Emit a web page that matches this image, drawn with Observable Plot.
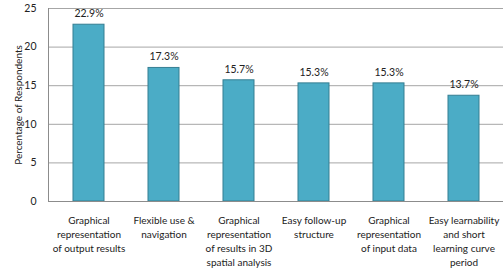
<!DOCTYPE html>
<html>
<head>
<meta charset="utf-8">
<script src="https://cdn.jsdelivr.net/npm/d3@7"></script>
<script src="https://cdn.jsdelivr.net/npm/@observablehq/plot@0.6"></script>
<style>
  html, body { margin: 0; padding: 0; background: #fff; }
  #chart svg { display: block; }
</style>
</head>
<body>
<div id="chart"></div>
<script>
const categories = [
  "Graphical\nrepresentation\nof output results",
  "Flexible use &\nnavigation",
  "Graphical\nrepresentation\nof results in 3D\nspatial analysis",
  "Easy follow-up\nstructure",
  "Graphical\nrepresentation\nof input data",
  "Easy learnability\nand short\nlearning curve\nperiod"
];
const values = [22.9, 17.3, 15.7, 15.3, 15.3, 13.7];
const valueLabels = ["22.9%", "17.3%", "15.7%", "15.3%", "15.3%", "13.7%"];
const yTicks = [0, 5, 10, 15, 20, 25];
const yTitle = "Percentage of Respondents";

const data = categories.map((c, i) => ({category: c, value: values[i], label: valueLabels[i]}));

const chart = Plot.plot({
  width: 503,
  height: 268,
  marginLeft: 48,
  marginRight: 0,
  marginTop: 8,
  marginBottom: 67,
  style: {fontFamily: "Lato, sans-serif", fontSize: "10px", color: "#222", background: "#fff"},
  x: {domain: categories, paddingInner: 0.59, paddingOuter: 0.295, label: null},
  y: {domain: [0, 25], label: null},
  marks: [
    Plot.gridY(yTicks.filter(d => d > 0), {stroke: "#a6a6a6", strokeOpacity: 1, strokeWidth: 1}),
    Plot.barY(data, {x: "category", y: "value", fill: "#4bacc6", stroke: "#357e92", strokeWidth: 1}),
    Plot.text(data, {x: "category", y: "value", text: "label", dy: -11, fontSize: 10.5, fill: "#222"}),
    Plot.ruleY([0], {stroke: "#8c8c8c"}),
    Plot.frame({anchor: "left", stroke: "#8c8c8c"}),
    Plot.axisY({ticks: yTicks, tickSize: 0, tickPadding: 12, label: null, fontSize: 10.5}),
    Plot.axisX({tickSize: 0, tickPadding: 13, label: null, fontSize: 10, lineHeight: 1.4, lineAnchor: "top"}),
    Plot.text([yTitle], {frameAnchor: "left", dx: -30, rotate: -90, textAnchor: "middle", fontSize: 10, fill: "#222"})
  ]
});
document.getElementById("chart").appendChild(chart);
</script>
</body>
</html>
